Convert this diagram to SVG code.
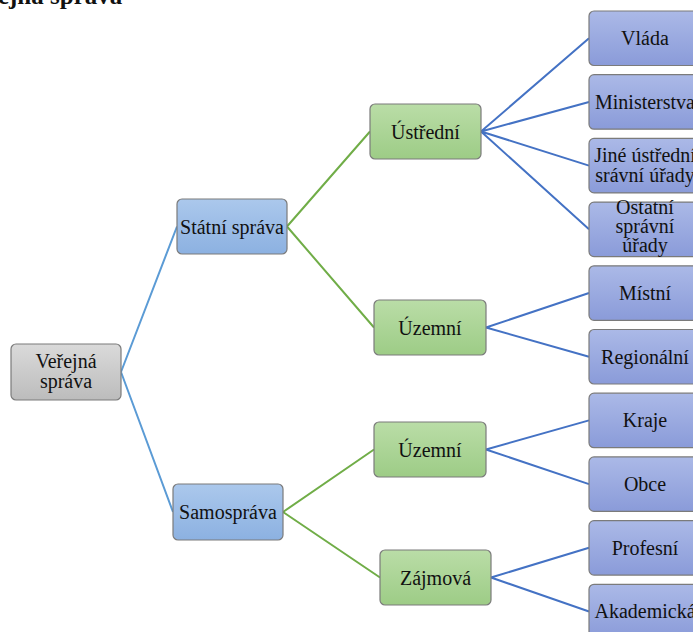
<svg xmlns="http://www.w3.org/2000/svg" width="693" height="632" viewBox="0 0 693 632">
<defs>
<linearGradient id="gGray" x1="0" y1="0" x2="0" y2="1"><stop offset="0" stop-color="#dadada"/><stop offset="1" stop-color="#bcbcbc"/></linearGradient>
<linearGradient id="gBlue" x1="0" y1="0" x2="0" y2="1"><stop offset="0" stop-color="#abc8ec"/><stop offset="1" stop-color="#8cb1e1"/></linearGradient>
<linearGradient id="gGreen" x1="0" y1="0" x2="0" y2="1"><stop offset="0" stop-color="#badda7"/><stop offset="1" stop-color="#9dcc86"/></linearGradient>
<linearGradient id="gLav" x1="0" y1="0" x2="0" y2="1"><stop offset="0" stop-color="#abb9e7"/><stop offset="1" stop-color="#8a9bd9"/></linearGradient>
</defs>
<style>
.box{stroke:#7b7b7b;stroke-width:1.2}
.gray{fill:url(#gGray)}
.blue{fill:url(#gBlue)}
.green{fill:url(#gGreen)}
.lav{fill:url(#gLav)}
text{font-family:"Liberation Serif","Times New Roman",serif;font-size:20px;fill:#111;text-anchor:middle}
.title{font-weight:bold;font-size:25px;text-anchor:start}
.c1{stroke:#5b9bd5;stroke-width:2;fill:none}
.c2{stroke:#70ad47;stroke-width:2;fill:none}
.c3{stroke:#4472c4;stroke-width:2;fill:none}
</style>
<rect width="693" height="632" fill="#ffffff"/>
<text class="title" x="-40" y="4">Veřejná správa</text>
<g id="connectors">
<path class="c1" d="M121,372 L177,226.5 M121,372 L173,512"/>
<path class="c2" d="M287,226.5 L370,131.5 M287,226.5 L374,327.5 M283,512 L374,449.5 M283,512 L380,577.5"/>
<path class="c3" d="M481,131.5 L589,38.2 M481,131.5 L589,102 M481,131.5 L589,165.6 M481,131.5 L589,229.3"/>
<path class="c3" d="M486,327.5 L589,293 M486,327.5 L589,356.7"/>
<path class="c3" d="M486,449.5 L589,420.4 M486,449.5 L589,484.1"/>
<path class="c3" d="M491,577.5 L589,547.8 M491,577.5 L589,611.5"/>
</g>
<g id="n-verejna"><rect class="box gray" x="11" y="344" width="110" height="56" rx="5"/><text x="66" y="368">Veřejná</text><text x="66" y="388">správa</text></g>
<g id="n-statni"><rect class="box blue" x="177" y="199" width="110" height="55" rx="5"/><text x="232" y="234">Státní správa</text></g>
<g id="n-samosprava"><rect class="box blue" x="173" y="484" width="110" height="56" rx="5"/><text x="228" y="519">Samospráva</text></g>
<g id="n-ustredni"><rect class="box green" x="370" y="104" width="111" height="55" rx="5"/><text x="425.5" y="139">Ústřední</text></g>
<g id="n-uzemni1"><rect class="box green" x="374" y="300" width="112" height="55" rx="5"/><text x="430" y="335">Územní</text></g>
<g id="n-uzemni2"><rect class="box green" x="374" y="422" width="112" height="55" rx="5"/><text x="430" y="457">Územní</text></g>
<g id="n-zajmova"><rect class="box green" x="380" y="550" width="111" height="55" rx="5"/><text x="435.5" y="585">Zájmová</text></g>
<g id="n-vlada"><rect class="box lav" x="589" y="11" width="112" height="54.5" rx="5"/><text x="645" y="45">Vláda</text></g>
<g id="n-ministerstva"><rect class="box lav" x="589" y="74.7" width="112" height="54.5" rx="5"/><text x="645" y="109">Ministerstva</text></g>
<g id="n-jine"><rect class="box lav" x="589" y="138.4" width="112" height="54.5" rx="5"/><text x="645" y="162">Jiné ústřední</text><text x="645" y="182">srávní úřady</text></g>
<g id="n-ostatni"><rect class="box lav" x="589" y="202.1" width="112" height="54.5" rx="5"/><text x="645" y="214">Ostatní</text><text x="645" y="233">správní</text><text x="645" y="252">úřady</text></g>
<g id="n-mistni"><rect class="box lav" x="589" y="265.8" width="112" height="54.5" rx="5"/><text x="645" y="300">Místní</text></g>
<g id="n-regionalni"><rect class="box lav" x="589" y="329.5" width="112" height="54.5" rx="5"/><text x="645" y="364">Regionální</text></g>
<g id="n-kraje"><rect class="box lav" x="589" y="393.2" width="112" height="54.5" rx="5"/><text x="645" y="427">Kraje</text></g>
<g id="n-obce"><rect class="box lav" x="589" y="456.9" width="112" height="54.5" rx="5"/><text x="645" y="491">Obce</text></g>
<g id="n-profesni"><rect class="box lav" x="589" y="520.6" width="112" height="54.5" rx="5"/><text x="645" y="555">Profesní</text></g>
<g id="n-akademicka"><rect class="box lav" x="589" y="584.3" width="112" height="54.5" rx="5"/><text x="645" y="618">Akademická</text></g>
</svg>
